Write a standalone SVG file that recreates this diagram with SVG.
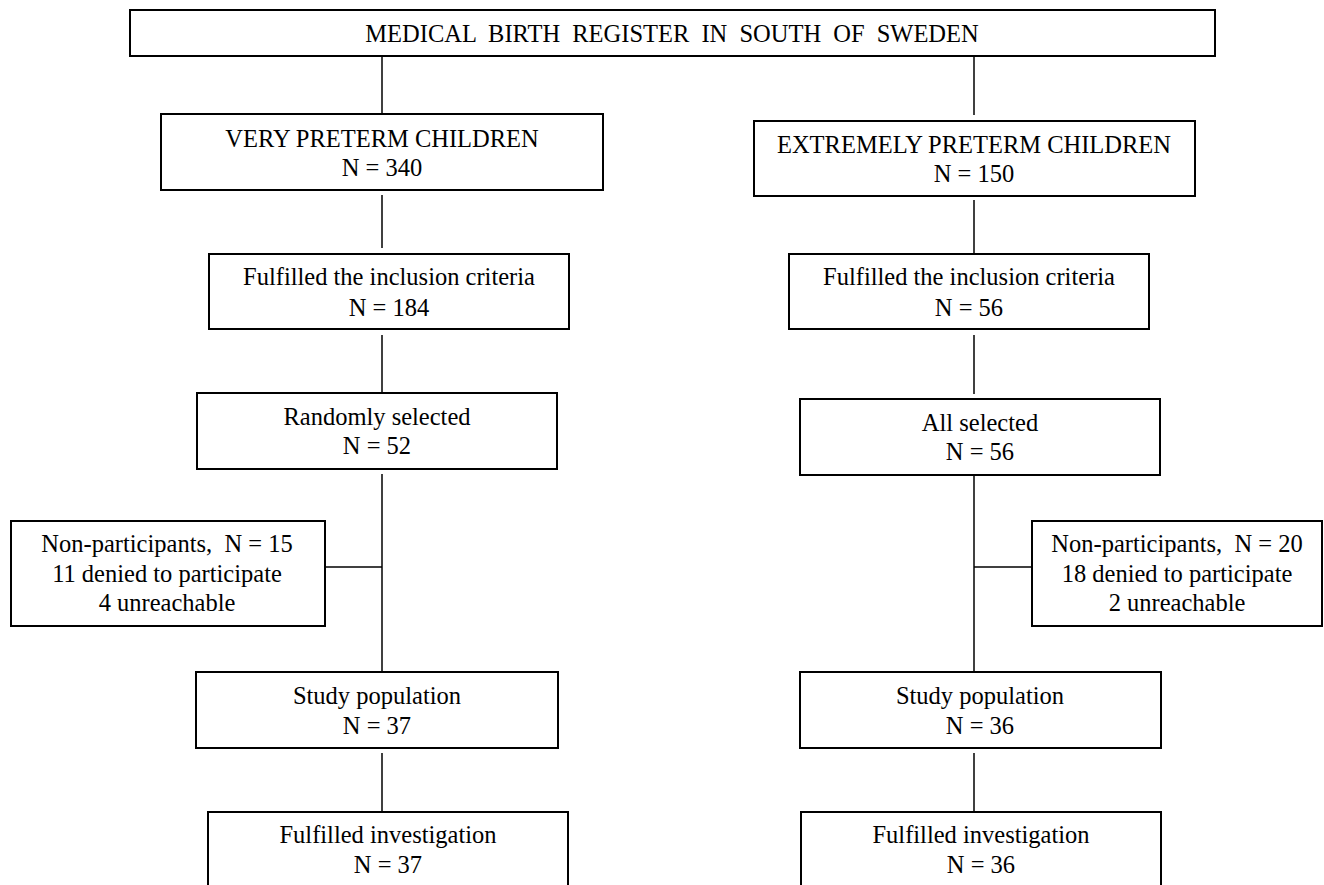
<svg xmlns="http://www.w3.org/2000/svg" width="1324" height="885" viewBox="0 0 1324 885">
<style>
  .box { fill: #ffffff; stroke: #000000; stroke-width: 2; }
  .ln { stroke: #000000; stroke-width: 1.5; fill: none; }
  text { font-family: "Liberation Serif", "Times New Roman", serif; font-size: 24.5px; fill: #000000; text-anchor: middle; }
</style>
<rect x="0" y="0" width="1324" height="885" fill="#ffffff"/>
<g id="connectors">
  <line class="ln" x1="382" y1="56" x2="382" y2="114"/>
  <line class="ln" x1="382" y1="195" x2="382" y2="248"/>
  <line class="ln" x1="382" y1="335" x2="382" y2="393"/>
  <line class="ln" x1="382" y1="474" x2="382" y2="672"/>
  <line class="ln" x1="325" y1="567" x2="382" y2="567"/>
  <line class="ln" x1="382" y1="753" x2="382" y2="812"/>
  <line class="ln" x1="974" y1="56" x2="974" y2="115"/>
  <line class="ln" x1="974" y1="200" x2="974" y2="253"/>
  <line class="ln" x1="974" y1="335" x2="974" y2="394"/>
  <line class="ln" x1="974" y1="475" x2="974" y2="672"/>
  <line class="ln" x1="974" y1="567" x2="1032" y2="567"/>
  <line class="ln" x1="974" y1="753" x2="974" y2="812"/>
</g>
<g id="register">
  <rect class="box" x="130" y="10" width="1085" height="46"/>
  <text x="672" y="42" style="word-spacing:6px">MEDICAL BIRTH REGISTER IN SOUTH OF SWEDEN</text>
</g>
<g id="very-preterm">
  <rect class="box" x="161" y="114" width="442" height="76"/>
  <text x="382" y="147">VERY PRETERM CHILDREN</text>
  <text x="382" y="176">N = 340</text>
</g>
<g id="extremely-preterm">
  <rect class="box" x="754" y="121" width="441" height="75"/>
  <text x="974" y="153">EXTREMELY PRETERM CHILDREN</text>
  <text x="974" y="182">N = 150</text>
</g>
<g id="inclusion-left">
  <rect class="box" x="209" y="254" width="360" height="75"/>
  <text x="389" y="285">Fulfilled the inclusion criteria</text>
  <text x="389" y="316">N = 184</text>
</g>
<g id="inclusion-right">
  <rect class="box" x="789" y="254" width="360" height="75"/>
  <text x="969" y="285">Fulfilled the inclusion criteria</text>
  <text x="969" y="316">N = 56</text>
</g>
<g id="randomly-selected">
  <rect class="box" x="197" y="393" width="360" height="76"/>
  <text x="377" y="425">Randomly selected</text>
  <text x="377" y="454">N = 52</text>
</g>
<g id="all-selected">
  <rect class="box" x="800" y="399" width="360" height="76"/>
  <text x="980" y="431">All selected</text>
  <text x="980" y="460">N = 56</text>
</g>
<g id="nonparticipants-left">
  <rect class="box" x="11" y="521" width="314" height="105"/>
  <text x="167" y="552" xml:space="preserve">Non-participants,  N = 15</text>
  <text x="167" y="582">11 denied to participate</text>
  <text x="167" y="611">4 unreachable</text>
</g>
<g id="nonparticipants-right">
  <rect class="box" x="1032" y="521" width="290" height="105"/>
  <text x="1177" y="552" xml:space="preserve">Non-participants,  N = 20</text>
  <text x="1177" y="582">18 denied to participate</text>
  <text x="1177" y="611">2 unreachable</text>
</g>
<g id="study-left">
  <rect class="box" x="196" y="672" width="362" height="76"/>
  <text x="377" y="704">Study population</text>
  <text x="377" y="734">N = 37</text>
</g>
<g id="study-right">
  <rect class="box" x="800" y="672" width="361" height="76"/>
  <text x="980" y="704">Study population</text>
  <text x="980" y="734">N = 36</text>
</g>
<g id="investigation-left">
  <rect class="box" x="208" y="812" width="360" height="90"/>
  <text x="388" y="843">Fulfilled investigation</text>
  <text x="388" y="873">N = 37</text>
</g>
<g id="investigation-right">
  <rect class="box" x="801" y="812" width="360" height="90"/>
  <text x="981" y="843">Fulfilled investigation</text>
  <text x="981" y="873">N = 36</text>
</g>
</svg>
